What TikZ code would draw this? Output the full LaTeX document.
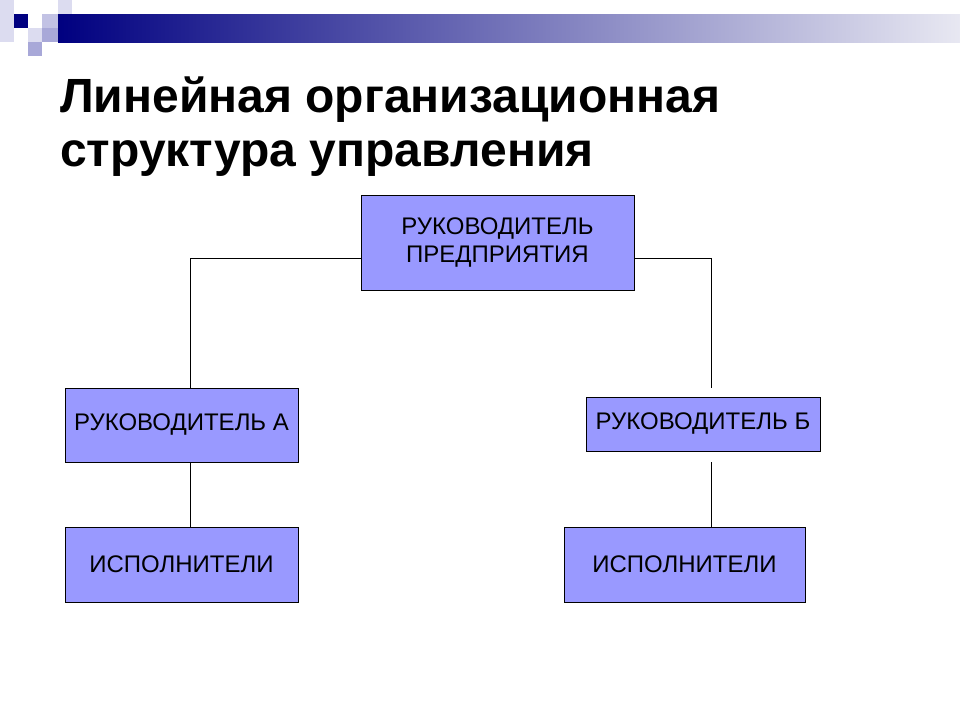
\documentclass[tikz,border=0pt]{standalone}
\usepackage{fontspec}
\setmainfont{Liberation Sans}
\usetikzlibrary{positioning}
\definecolor{boxblue}{HTML}{9999FF}
\definecolor{navy}{HTML}{000080}
\definecolor{sqlight}{HTML}{DCDCF0}
\definecolor{sqmid}{HTML}{A8A8D8}
\definecolor{barend}{HTML}{E8E8F2}
\tikzset{
  unitbox/.style={draw=black, fill=boxblue, inner sep=0pt, font=\fontsize{24}{28}\selectfont, align=center},
  link/.style={draw=black, line width=0.8pt}
}
\begin{document}
\begin{tikzpicture}[x=1pt,y=-1pt]
  \useasboundingbox (0,0) rectangle (960,720);
  % header decoration
  \shade[left color=navy, right color=barend] (58,14) rectangle (960,42);
  \fill[sqlight] (0,0) rectangle (14,42);
  \fill[navy] (14,14) rectangle (28,28);
  \fill[sqlight] (58,0) rectangle (72,14);
  \fill[sqmid!70] (42,14) rectangle (58,28);
  \fill[sqlight] (28,28) rectangle (42,42);
  \fill[sqmid] (42,28) rectangle (58,42);
  \fill[sqmid] (28,42) rectangle (42,56);
  % title
  \node[anchor=base west, inner sep=0pt, font=\bfseries\fontsize{48}{56}\selectfont] (title1) at (60,112) {Линейная организационная};
  \node[anchor=base west, inner sep=0pt, font=\bfseries\fontsize{48}{56}\selectfont] (title2) at (60,166) {структура управления};
  % boxes
  \node[unitbox, minimum width=273, minimum height=95] (top) at (497.5,242.5) {РУКОВОДИТЕЛЬ\\ПРЕДПРИЯТИЯ};
  \node[unitbox, minimum width=233, minimum height=74] (headA) at (181.5,425) {РУКОВОДИТЕЛЬ А};
  \node[unitbox, minimum width=234, minimum height=54] (headB) at (703,424) {РУКОВОДИТЕЛЬ Б};
  \node[unitbox, minimum width=233, minimum height=75] (execA) at (181.5,564.5) {ИСПОЛНИТЕЛИ};
  \node[unitbox, minimum width=241, minimum height=75] (execB) at (684.5,564.5) {ИСПОЛНИТЕЛИ};
  % connectors
  \coordinate (bendL) at (190,258);
  \coordinate (bendR) at (711,258);
  \coordinate (endR) at (711,388);
  \coordinate (startB) at (711,462);
  \draw[link] (top.west |- bendL) -- (bendL) -- (bendL |- headA.north);
  \draw[link] (top.east |- bendR) -- (bendR) -- (endR);
  \draw[link] (bendL |- headA.south) -- (bendL |- execA.north);
  \draw[link] (startB) -- (startB |- execB.north);
\end{tikzpicture}
\end{document}
